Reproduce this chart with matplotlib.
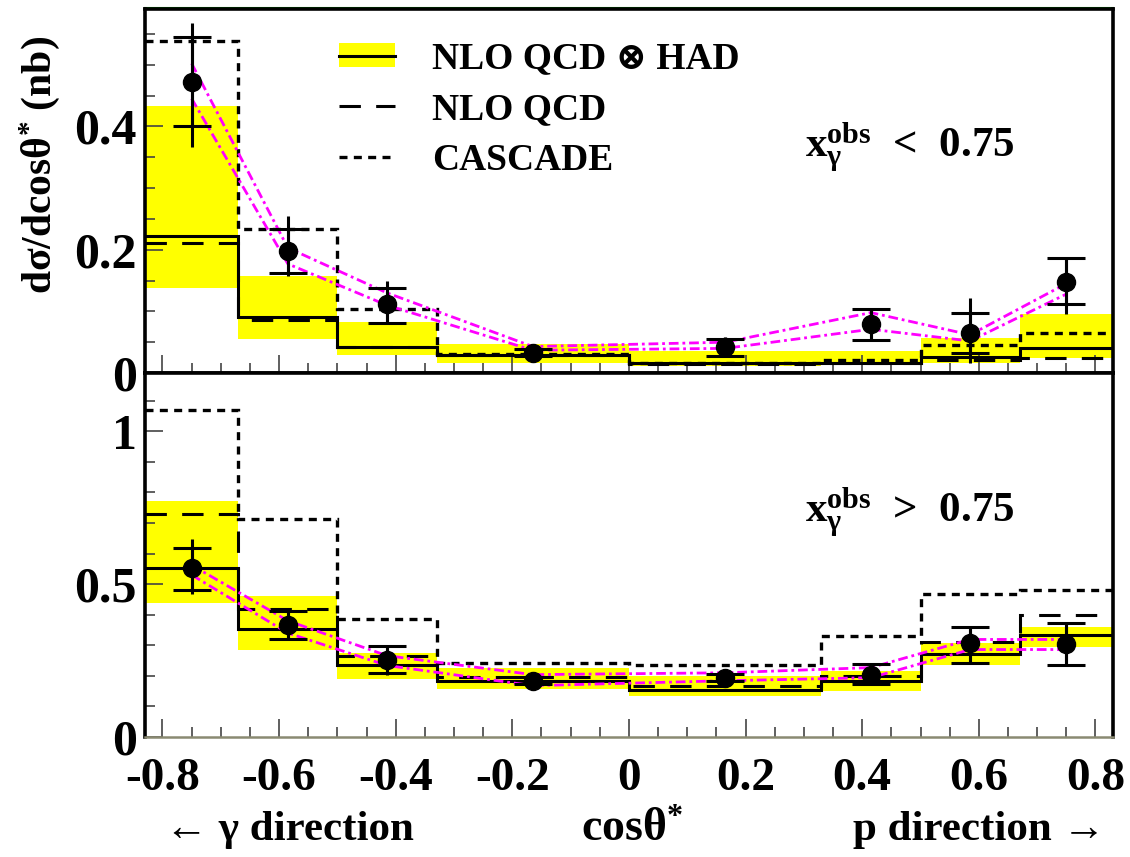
import numpy as np
import matplotlib
matplotlib.use('Agg')
import matplotlib.pyplot as plt
from matplotlib.patches import Patch
from matplotlib.lines import Line2D
from matplotlib.ticker import MultipleLocator

plt.rcParams['font.family'] = ['Liberation Serif', 'DejaVu Serif']
plt.rcParams['font.weight'] = 'bold'
plt.rcParams['mathtext.fontset'] = 'custom'
plt.rcParams['mathtext.rm'] = 'Liberation Serif:bold'
plt.rcParams['mathtext.it'] = 'Liberation Serif:bold'
plt.rcParams['mathtext.bf'] = 'Liberation Serif:bold'
plt.rcParams['mathtext.default'] = 'rm'

# cos(theta*) bins
edges = np.array([-0.83, -0.67, -0.5, -0.33, 0.0, 0.33, 0.5, 0.67, 0.83])
centres = 0.5 * (edges[:-1] + edges[1:])

# x_gamma^obs < 0.75
lo_data = [0.472, 0.198, 0.112, 0.033, 0.042, 0.080, 0.065, 0.148]
lo_stat_up = [0.073, 0.036, 0.026, 0.006, 0.014, 0.024, 0.033, 0.039]
lo_stat_dn = [0.072, 0.035, 0.031, 0.006, 0.014, 0.026, 0.033, 0.036]
lo_tot_up = [0.095, 0.056, 0.038, 0.008, 0.016, 0.026, 0.057, 0.039]
lo_tot_dn = [0.106, 0.040, 0.031, 0.008, 0.016, 0.028, 0.049, 0.052]
lo_nlo_had = [0.223, 0.091, 0.043, 0.030, 0.016, 0.017, 0.026, 0.041]
lo_band_hi = [0.433, 0.157, 0.082, 0.047, 0.036, 0.036, 0.057, 0.096]
lo_band_lo = [0.138, 0.056, 0.030, 0.017, 0.011, 0.013, 0.017, 0.024]
lo_nlo = [0.211, 0.086, 0.042, 0.029, 0.015, 0.016, 0.021, 0.024]
lo_cascade = [0.539, 0.234, 0.104, 0.031, 0.017, 0.021, 0.046, 0.065]
lo_mag_hi = [0.502, 0.203, 0.130, 0.043, 0.050, 0.098, 0.062, 0.145]
lo_mag_lo = [0.445, 0.177, 0.110, 0.037, 0.040, 0.071, 0.052, 0.128]

# x_gamma^obs > 0.75
hi_data = [0.553, 0.365, 0.253, 0.184, 0.194, 0.204, 0.309, 0.303]
hi_stat_up = [0.065, 0.046, 0.045, 0.012, 0.012, 0.036, 0.050, 0.069]
hi_stat_dn = [0.073, 0.046, 0.045, 0.012, 0.012, 0.030, 0.066, 0.069]
hi_tot_up = [0.095, 0.046, 0.049, 0.015, 0.015, 0.039, 0.050, 0.069]
hi_tot_dn = [0.086, 0.046, 0.049, 0.015, 0.015, 0.033, 0.066, 0.069]
hi_nlo_had = [0.553, 0.352, 0.237, 0.184, 0.155, 0.184, 0.270, 0.332]
hi_band_hi = [0.773, 0.461, 0.276, 0.227, 0.200, 0.217, 0.309, 0.359]
hi_band_lo = [0.438, 0.286, 0.191, 0.158, 0.135, 0.151, 0.234, 0.293]
hi_nlo = [0.730, 0.418, 0.266, 0.197, 0.168, 0.200, 0.312, 0.398]
hi_cascade = [1.069, 0.714, 0.385, 0.243, 0.234, 0.329, 0.467, 0.480]
hi_mag_hi = [0.562, 0.380, 0.266, 0.204, 0.210, 0.227, 0.319, 0.319]
hi_mag_lo = [0.530, 0.340, 0.234, 0.168, 0.184, 0.194, 0.286, 0.286]

LW = 2.2
LW_CAS = 2.4
YELLOW = '#ffff00'
MAGENTA = '#ff00ff'
dash_nlo = (7, 5)
dash_cas = (2.4, 1.9)
dashdot = (0, (3.5, 1.4, 1.0, 1.4))

fig = plt.figure(figsize=(11.3, 8.57), dpi=100)
ax_lo = fig.add_axes([0.1283, 0.5647, 0.8566, 0.4246])
ax_hi = fig.add_axes([0.1283, 0.1400, 0.8566, 0.4247])


def draw_panel(ax, data, st_up, st_dn, to_up, to_dn, nlo_had, b_hi, b_lo,
               nlo, cas, m_hi, m_lo):
    ax.stairs(b_hi, edges, baseline=b_lo, fill=True, color=YELLOW,
              lw=0, zorder=1)
    ax.stairs(nlo_had, edges, baseline=None, color='k', lw=LW, zorder=3)
    ax.stairs(nlo, edges, baseline=None, color='k', lw=LW,
              linestyle=(0, dash_nlo), zorder=3)
    ax.stairs(cas, edges, baseline=None, color='k', lw=LW_CAS,
              linestyle=(0, dash_cas), zorder=3)
    ax.plot(centres, m_hi, color=MAGENTA, lw=2.0, ls=dashdot, zorder=4)
    ax.plot(centres, m_lo, color=MAGENTA, lw=2.0, ls=dashdot, zorder=4)
    ax.errorbar(centres, data, yerr=[to_dn, to_up], fmt='none', ecolor='k',
                elinewidth=LW, capsize=0, zorder=5)
    ax.errorbar(centres, data, yerr=[st_dn, st_up], fmt='o', color='k',
                ms=13, elinewidth=LW, capsize=14, capthick=LW, zorder=6)

    ax.set_xlim(-0.83, 0.83)
    ax.xaxis.set_major_locator(MultipleLocator(0.2))
    ax.xaxis.set_minor_locator(MultipleLocator(0.05))
    ax.tick_params(which='both', direction='in', top=False, right=False,
                   width=1.2, color='#444444')
    ax.tick_params(axis='y', pad=6, labelsize=36)
    ax.tick_params(axis='x', pad=15, labelsize=34)
    ax.tick_params(which='major', length=13)
    ax.tick_params(which='minor', length=7)
    for side in ['left', 'right', 'top', 'bottom']:
        ax.spines[side].set_linewidth(2.6)


draw_panel(ax_lo, lo_data, lo_stat_up, lo_stat_dn, lo_tot_up, lo_tot_dn,
           lo_nlo_had, lo_band_hi, lo_band_lo, lo_nlo, lo_cascade,
           lo_mag_hi, lo_mag_lo)
draw_panel(ax_hi, hi_data, hi_stat_up, hi_stat_dn, hi_tot_up, hi_tot_dn,
           hi_nlo_had, hi_band_hi, hi_band_lo, hi_nlo, hi_cascade,
           hi_mag_hi, hi_mag_lo)

ax_lo.set_ylim(0, 0.59)
ax_lo.yaxis.set_minor_locator(MultipleLocator(0.05))
ax_lo.set_yticks([0, 0.2, 0.4], ['0', '0.2', '0.4'])
ax_lo.tick_params(axis='x', labelbottom=False)
ax_lo.plot([0, 1], [1.004, 1.004], transform=ax_lo.transAxes,
           color='#00a000', lw=1.5, clip_on=False)

ax_hi.set_ylim(0, 1.19)
ax_hi.yaxis.set_minor_locator(MultipleLocator(0.1))
ax_hi.set_yticks([0, 0.5, 1.0], ['0', '0.5', '1'])
ax_hi.set_xticks([-0.8, -0.6, -0.4, -0.2, 0, 0.2, 0.4, 0.6, 0.8],
                 ['-0.8', '-0.6', '-0.4', '-0.2', '0', '0.2', '0.4', '0.6', '0.8'])
ax_hi.spines['bottom'].set_color('#8a8a72')
ax_hi.spines['bottom'].set_linewidth(1.8)
for lab in ax_hi.get_yticklabels() + ax_lo.get_yticklabels():
    lab.set_fontweight('bold')
    lab.set_fontsize(36)
for lab in ax_hi.get_xticklabels():
    lab.set_fontweight('bold')
    lab.set_fontsize(34)

# legend
handles = [(Patch(facecolor=YELLOW, edgecolor='none'),
            Line2D([], [], color='k', lw=LW)),
           Line2D([], [], color='k', lw=LW, linestyle=(0, dash_nlo)),
           Line2D([], [], color='k', lw=LW_CAS, linestyle=(0, dash_cas))]
labels = ['NLO QCD \u2297 HAD', 'NLO QCD', 'CASCADE']
ax_lo.legend(handles, labels, loc='upper left', bbox_to_anchor=(0.2, 0.912),
             frameon=False, handlelength=1.5, handleheight=0.6,
             handletextpad=1.0, labelspacing=0.42, borderpad=0,
             borderaxespad=0, prop={'weight': 'bold', 'size': 27})

ax_lo.text(0.682, 0.595, 'x$_{\\gamma}^{obs}$  <  0.75', transform=ax_lo.transAxes,
           fontsize=31, fontweight='bold', va='baseline', ha='left')
ax_hi.text(0.682, 0.59, 'x$_{\\gamma}^{obs}$  >  0.75', transform=ax_hi.transAxes,
           fontsize=31, fontweight='bold', va='baseline', ha='left')

fig.text(0.035, 0.807, 'd\u03c3/dcos\u03b8$^{*}$ (nb)', rotation=90,
         ha='center', va='center', fontsize=30, fontweight='bold')
fig.text(0.146, 0.031, '\u2190 \u03b3 direction', ha='left', va='center',
         fontsize=31, fontweight='bold')
fig.text(0.559, 0.031, 'cos\u03b8$^{*}$', ha='center', va='center',
         fontsize=33, fontweight='bold')
fig.text(0.978, 0.031, 'p direction \u2192', ha='right', va='center',
         fontsize=31, fontweight='bold')

fig.savefig('out.png', dpi=100)
